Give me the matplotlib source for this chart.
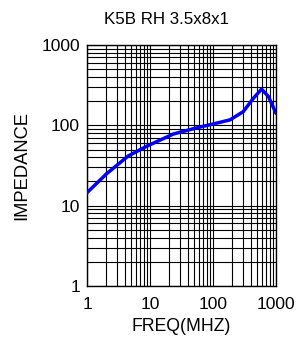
import matplotlib
matplotlib.use("Agg")
import matplotlib.pyplot as plt
from matplotlib.ticker import LogLocator, FixedFormatter, FixedLocator, NullFormatter

plt.rcParams['font.family'] = ['Liberation Sans', 'DejaVu Sans']

title = "K5B RH 3.5x8x1"
freq_mhz = [1, 2.05, 4.5, 8.9, 23.5, 55, 101, 186, 302, 437, 590, 757, 1000]
impedance = [14.5, 25, 41.5, 55, 78, 93, 104, 117, 148, 217, 282, 229, 141]
x_ticks = [1, 10, 100, 1000]
x_tick_labels = ["1", "10", "100", "1000"]
y_ticks = [1, 10, 100, 1000]
y_tick_labels = ["1", "10", "100", "1000"]

fig = plt.figure(figsize=(3.06, 3.40), dpi=100)
ax = fig.add_axes([87/306, 54/340, 189/306, 241/340])
ax.set_xscale('log')
ax.set_yscale('log')
ax.set_xlim(1, 1000)
ax.set_ylim(1, 1000)

ax.plot(freq_mhz, impedance, color='#0000ff', lw=2.5, solid_capstyle='round', zorder=3)

ax.xaxis.set_major_locator(FixedLocator(x_ticks))
ax.xaxis.set_major_formatter(FixedFormatter(x_tick_labels))
ax.yaxis.set_major_locator(FixedLocator(y_ticks))
ax.yaxis.set_major_formatter(FixedFormatter(y_tick_labels))
ax.xaxis.set_minor_locator(LogLocator(base=10, subs=range(2, 10), numticks=20))
ax.yaxis.set_minor_locator(LogLocator(base=10, subs=range(2, 10), numticks=20))
ax.xaxis.set_minor_formatter(NullFormatter())
ax.yaxis.set_minor_formatter(NullFormatter())

ax.grid(True, which='both', color='black', lw=0.8)
ax.tick_params(which='both', length=0)
ax.tick_params(axis='x', labelsize=12.5, pad=8)
ax.tick_params(axis='y', labelsize=12.5, pad=5)
for s in ax.spines.values():
    s.set_color('black')
    s.set_linewidth(1.0)

ax.set_xlabel("FREQ(MHZ)", fontsize=12.7, labelpad=4)
ax.set_ylabel("IMPEDANCE", fontsize=13.2, labelpad=8)
fig.text(166/306, 1 - 20/340, title, ha='center', va='center', fontsize=12.2)

fig.savefig("out.png", dpi=100)
